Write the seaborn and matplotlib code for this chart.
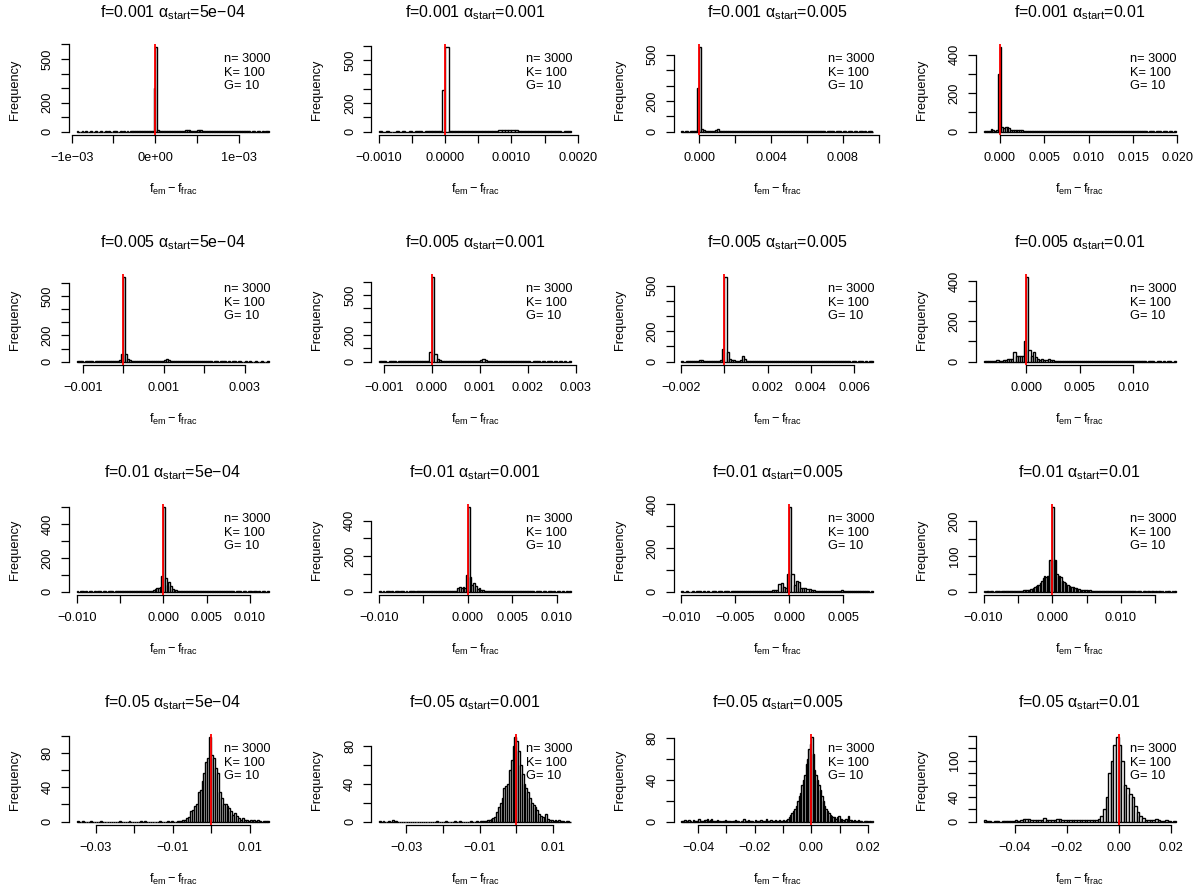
import numpy as np
import pandas as pd
import matplotlib
matplotlib.use("Agg")
import matplotlib.pyplot as plt
import seaborn as sns

# ---------------- data ----------------
f_labels = ["0.001", "0.005", "0.01", "0.05"]
alpha_labels = ["5e\u221204", "0.001", "0.005", "0.01"]
info_text = "n= 3000\nK= 100\nG= 10"
ref_value = 0.0

# row f=0.001
lo_00, w_00 = -0.00094, 2e-5
counts_00 = [1,0,0,1,0,1,0,0,1,0, 0,1,0,0,1,0,0,1,0,1, 0,0,1,1,0,0,1,0,1,0, 1,0,1,1,2,1,1,2,1,2, 1,2,2,3,2,4,
             300, 580,
             8,5,4,3,3,2,3,2,3,4, 3,4,5,4,6,5,7,9,11,8, 6,5,6,7,8,9,8,7,6,5, 5,4,4,3,4,3,3,2,3,2,
             2,3,2,2,1,2,2,1,2,1, 2,1,1,2,1,1,0,1,1,0, 1,1,0,1,0,1,1]
lo_01, w_01 = -0.0010, 5e-5
counts_01 = [1,0,1,0,0,1,0,1,0,1, 0,1,1,0,1,1,2,2,4,
             292, 588,
             6,4,3,3,2,3,2,3,3,4, 4,5,5,6,7,8,9,10,10,9, 8,7,6,5,4,4,3,3,2,2, 2,1,1,1,0,1,1]
lo_02, w_02 = -0.0010, 1e-4
counts_02 = [1,0,1,1,0,1,2,3,5,
             283, 548,
             15,8,5,4,3,3,4,6,12,15, 6,3,3,2,3,2,2,3,2,2, 3,2,2,3,2,3,3,2,3,4, 3,3,4,3,3,4,3,3,2,3,
             3,2,3,2,2,3,2,2,1,2, 2,1,2,2,1,2,1,1,2,1, 1,2,1,1,1,2,1,1,1,0, 1,1,1,1,0,1,1,1,0,1,
             1,0,1,1,0,1,1,0,1,1, 0,1,0,1,1,0]
lo_03, w_03 = -0.0018, 2e-4
counts_03 = [2,3,5,4,15,6,5,10,
             299, 438,
             25,18,22,24,18,10,8,7,6,8, 7,6,5,4,5,4,3,4,3,3, 3,2,3,3,2,3,2,2,3,2, 2,3,2,2,3,2,2,2,3,2,
             2,2,3,2,4,3,2,2,3,2, 2,3,2,2,2,1,2,2,1,2, 2,1,2,1,2,2,1,1,2,1, 2,1,1,2,1,1,1,2,1,1,
             1,1,0,1,1,1,0,1,1,1, 0,1,1,0,1,1,0,1]

# row f=0.005
lo_10, w_10 = -0.00115, 5e-5
counts_10 = [1,2,1,0,1,2,1,1,0,1, 1,2,1,1,2,1,2,2,3,3, 4,10,60,
             644,
             55,20,12,8,6,5,4,4,3,4, 3,3,4,3,4,4,5,6,8,12, 18,14,8,5,4,3,3,2,2,3, 2,2,1,2,2,1,2,1,1,2,
             1,1,1,0,1,1,0,1,1,1, 0,1,0,1,1,0,1,0,0,1, 0,1,0,0,1,0,0,1,0,0, 1]
lo_11, w_11 = -0.0011, 5e-5
counts_11 = [1,2,1,0,1,1,2,0,1,1, 1,2,1,2,2,1,2,3,2,3, 5,70,
             634,
             55,18,10,7,5,4,4,3,3,4, 3,3,3,4,3,4,4,5,7,10, 20,12,6,4,3,3,2,2,2,3, 2,1,2,2,1,1,2,1,1,1,
             0,1,1,1,0,1,0,1,1,0, 1,0,1,0,1,0,1]
lo_12, w_12 = -0.0020, 1e-4
counts_12 = [1,0,1,1,2,1,2,3,12,14, 5,3,4,3,4,5,6,7,10,84,
             555,
             62,15,10,8,6,5,8,38,18,6, 4,3,3,2,3,4,3,5,4,3, 3,2,3,2,2,3,2,2,3,2, 2,3,2,2,1,2,2,3,3,2,
             3,2,2,3,2,2,3,2,2,1, 2,1,1,2,1,1,1,0,1,1, 0,1,1,0,1,0,1,1]
lo_13, w_13 = -0.0040, 2e-4
counts_13 = [2,1,3,2,4,5,6,4,5,8, 10,12,15,12,50,30,30,28,30,100,
             418,
             58,30,47,22,15,10,12,10,8,12, 8,6,5,5,4,4,3,4,3,3, 2,3,2,3,2,2,2,3,2,2, 1,2,2,1,2,1,2,2,1,2,
             2,1,2,3,2,3,2,1,2,1, 1,2,1,1,1,0,1,1,1,0, 1,1,0,1,0,1,1,0,1]

# row f=0.01
lo_20, w_20 = -0.0100, 2e-4
counts_20 = [1,0,1,1,0,1,0,1,1,0, 1,0,1,1,0,1,1,0,1,1, 1,0,1,1,1,1,2,1,1,2, 1,2,2,1,2,2,3,2,3,3,
             4,3,5,6,8,15,20,22,25,94,
             500,
             80,40,55,35,15,10,8,6,5,4, 5,4,3,3,4,3,2,3,2,2, 3,2,2,1,2,2,1,2,1,2, 1,1,2,1,1,1,2,1,1,1,
             0,1,1,1,0,1,1,0,1,1, 0,1,1,0,1,0,1,1,0,1]
lo_21, w_21 = -0.0100, 2e-4
counts_21 = [1,0,1,0,1,1,0,1,0,1, 1,0,1,1,0,1,0,1,1,1, 0,1,1,1,2,1,1,1,2,1, 2,1,2,2,1,2,3,2,3,4,
             3,4,5,6,20,25,22,25,20,95,
             475,
             80,40,50,30,15,18,8,10,6,5, 4,5,3,4,3,3,2,3,2,3, 2,2,1,2,2,1,2,1,1,2, 1,1,1,2,1,1,0,1,1,1,
             0,1,1,0,1,1,0,1,0,1, 1,0,1,0,1,0,1]
lo_22, w_22 = -0.0100, 2e-4
counts_22 = [1,0,1,0,0,1,0,1,1,0, 1,0,1,0,1,1,0,1,1,0, 1,1,0,1,1,1,1,2,1,1, 2,1,2,2,3,2,3,3,4,3,
             5,5,6,8,8,35,40,20,18,80,
             385,
             80,30,50,45,15,15,15,14,12,8, 6,5,5,4,4,3,3,4,3,3, 2,3,4,6,5,3,2,2,1,2, 2,1,1,2,1,1,0,1]
lo_23, w_23 = -0.0100, 2e-4
counts_23 = [1,0,1,1,0,1,1,0,1,1, 1,1,0,1,1,1,1,2,1,1, 2,1,2,2,2,3,2,3,3,4, 4,5,5,6,7,8,10,12,15,18,
             20,25,30,38,45,40,45,45,90,90,
             238,
             90,90,50,45,45,40,30,28,25,20, 18,15,13,12,12,10,9,8,7,6, 6,5,5,4,4,3,4,3,3,3,
             2,3,2,2,3,2,2,2,1,2, 2,1,2,1,1,2,1,2,2,3, 2,2,1,2,1,1,2,1,1,1, 0,1,1,1,0,1,1,0,1,1,
             0,1,1,0,1,0,1,1,0,1, 0,1,0,1,1,0,1,0,1]

# row f=0.05
lo_30, w_30 = -0.0350, 5e-4
counts_30 = [1,0,0,1,0,0,0,1,0,0, 0,0,1,0,0,0,0,0,0,0, 0,0,1,0,0,0,0,1,0,0, 0,0,0,1,0,1,0,0,0,0,
             0,0,0,1,0,0,0,1,0,1, 0,0,1,1,
             1,2,2,4,5,12,14,18,21,35, 37,47,57,69,74,98,
             78,74,62,57,35,27,20,20,18,16, 12,8,10,6,4,2,4,2,2,1, 2,1,2,1,2,1,0,1,1,1]
lo_31, w_31 = -0.0375, 5e-4
counts_31 = [1,0,1,0,0,1,0,2,0,1, 0,0,0,0,0,0,0,0,0,0, 0,0,0,0,0,0,0,0,0,0, 0,1,0,0,0,0,1,0,0,0,
             0,1,0,0,1,0,0,0,0,0, 1,0,0,1,0,1,
             1,1,1,2,2,3,4,5,10,15, 20,25,35,38,40,55,65,80,89,
             85,75,60,50,40,35,31,25,20,18, 15,12,8,6,5,4,8,3,2,2, 1,2,1,2,1,1,0,1,1,0]
lo_32, w_32 = -0.0460, 5e-4
counts_32 = [1,1,2,1,1,2,1,0,2,1, 1,1,3,1,1,1,2,2,3,1, 2,3,1,1,1,2,1,1,0,1, 1,2,1,1,1,0,1,1,2,1,
             1,0,1,1,3,1,1,2,1,1, 1,0,2,1,1,1,2,1,1,1, 3,1,1,2,1,1,2,1,1,2, 1,1,
             2,1,2,3,4,6,8,10,12,15, 20,25,28,35,40,45,55,60,70,75,
             81,65,50,45,40,35,30,25,20,15, 12,10,8,6,5,4,4,3,4,5, 3,3,2,2,3,2,5,2,2,1,
             2,1,1,2,1,1,0,1,1,1, 0,1,0,1]
lo_33, w_33 = -0.0520, 1e-3
counts_33 = [2,1,1,0,1,1,0,1,1,1, 1,1,2,1,2,4,5,4,3,2, 2,3,3,6,3,2,3,2,4,5, 3,2,2,2,3,2,2,3,2,2,
             2,2,3,3,4,
             10,20,40,80,100,125,138,
             126,100,60,55,45,40,25,15,10,6, 3,3,2,2,4,2,1,1,2,1, 0,1]

M = "\u2212"
xticks_00 = [-1e-3, -5e-4, 0, 5e-4, 1e-3]
xlabs_00 = [M + "1e" + M + "03", "", "0e+00", "", "1e" + M + "03"]
xticks_01 = [-0.001, -0.0005, 0, 0.0005, 0.001, 0.0015, 0.002]
xlabs_01 = [M + "0.0010", "", "0.0000", "", "0.0010", "", "0.0020"]
xticks_02 = [0, 0.002, 0.004, 0.006, 0.008, 0.010]
xlabs_02 = ["0.000", "", "0.004", "", "0.008", ""]
xticks_03 = [0, 0.005, 0.010, 0.015, 0.020]
xlabs_03 = ["0.000", "0.005", "0.010", "0.015", "0.020"]
xticks_10 = [-0.001, 0, 0.001, 0.002, 0.003]
xlabs_10 = [M + "0.001", "", "0.001", "", "0.003"]
xticks_11 = [-0.001, 0, 0.001, 0.002, 0.003]
xlabs_11 = [M + "0.001", "0.000", "0.001", "0.002", "0.003"]
xticks_12 = [-0.002, 0, 0.002, 0.004, 0.006]
xlabs_12 = [M + "0.002", "", "0.002", "0.004", "0.006"]
xticks_13 = [0, 0.005, 0.010]
xlabs_13 = ["0.000", "0.005", "0.010"]
xticks_20 = [-0.010, -0.005, 0, 0.005, 0.010]
xlabs_20 = [M + "0.010", "", "0.000", "0.005", "0.010"]
xticks_21 = [-0.010, -0.005, 0, 0.005, 0.010]
xlabs_21 = [M + "0.010", "", "0.000", "0.005", "0.010"]
xticks_22 = [-0.010, -0.005, 0, 0.005]
xlabs_22 = [M + "0.010", M + "0.005", "0.000", "0.005"]
xticks_23 = [-0.010, -0.005, 0, 0.005, 0.010, 0.015]
xlabs_23 = [M + "0.010", "", "0.000", "", "0.010", ""]
xticks_30 = [-0.03, -0.02, -0.01, 0, 0.01]
xlabs_30 = [M + "0.03", "", M + "0.01", "", "0.01"]
xticks_31 = [-0.03, -0.02, -0.01, 0, 0.01]
xlabs_31 = [M + "0.03", "", M + "0.01", "", "0.01"]
xticks_32 = [-0.04, -0.03, -0.02, -0.01, 0, 0.01, 0.02]
xlabs_32 = [M + "0.04", "", M + "0.02", "", "0.00", "", "0.02"]
xticks_33 = [-0.04, -0.02, 0, 0.02]
xlabs_33 = [M + "0.04", M + "0.02", "0.00", "0.02"]

yticks_600 = [0, 100, 200, 300, 400, 500, 600]
ylabs_600 = ["0", "", "200", "", "", "500", ""]
yticks_500 = [0, 100, 200, 300, 400, 500]
ylabs_500a = ["0", "", "200", "", "", "500"]
ylabs_500b = ["0", "", "200", "", "400", ""]
yticks_400 = [0, 100, 200, 300, 400]
ylabs_400 = ["0", "", "200", "", "400"]
yticks_200 = [0, 50, 100, 150, 200]
ylabs_200 = ["0", "", "100", "", "200"]
yticks_100 = [0, 20, 40, 60, 80, 100]
ylabs_100 = ["0", "", "40", "", "80", ""]
yticks_80 = [0, 20, 40, 60, 80]
ylabs_80 = ["0", "", "40", "", "80"]
yticks_140 = [0, 20, 40, 60, 80, 100, 120, 140]
ylabs_140 = ["0", "", "40", "", "", "100", "", ""]

panels = [
    [(lo_00, w_00, counts_00, xticks_00, xlabs_00, yticks_600, ylabs_600),
     (lo_01, w_01, counts_01, xticks_01, xlabs_01, yticks_600, ylabs_600),
     (lo_02, w_02, counts_02, xticks_02, xlabs_02, yticks_500, ylabs_500a),
     (lo_03, w_03, counts_03, xticks_03, xlabs_03, yticks_400, ylabs_400)],
    [(lo_10, w_10, counts_10, xticks_10, xlabs_10, yticks_600, ylabs_600),
     (lo_11, w_11, counts_11, xticks_11, xlabs_11, yticks_600, ylabs_600),
     (lo_12, w_12, counts_12, xticks_12, xlabs_12, yticks_500, ylabs_500a),
     (lo_13, w_13, counts_13, xticks_13, xlabs_13, yticks_400, ylabs_400)],
    [(lo_20, w_20, counts_20, xticks_20, xlabs_20, yticks_500, ylabs_500b),
     (lo_21, w_21, counts_21, xticks_21, xlabs_21, yticks_400, ylabs_400),
     (lo_22, w_22, counts_22, xticks_22, xlabs_22, yticks_400, ylabs_400),
     (lo_23, w_23, counts_23, xticks_23, xlabs_23, yticks_200, ylabs_200)],
    [(lo_30, w_30, counts_30, xticks_30, xlabs_30, yticks_100, ylabs_100),
     (lo_31, w_31, counts_31, xticks_31, xlabs_31, yticks_80, ylabs_80),
     (lo_32, w_32, counts_32, xticks_32, xlabs_32, yticks_80, ylabs_80),
     (lo_33, w_33, counts_33, xticks_33, xlabs_33, yticks_140, ylabs_140)],
]

# ---------------- style ----------------
sns.set_theme(style="white")
plt.rcParams["font.family"] = ["Liberation Sans", "DejaVu Sans"]
plt.rcParams["mathtext.fontset"] = "custom"
plt.rcParams["mathtext.rm"] = "Liberation Sans"
plt.rcParams["mathtext.it"] = "Liberation Sans"
plt.rcParams["mathtext.bf"] = "Liberation Sans:bold"
plt.rcParams["mathtext.sf"] = "Liberation Sans"
plt.rcParams["axes.unicode_minus"] = True
plt.rcParams["text.color"] = "black"
plt.rcParams["axes.labelcolor"] = "black"
plt.rcParams["xtick.color"] = "black"
plt.rcParams["ytick.color"] = "black"

W, H = 1197, 894
fig = plt.figure(figsize=(W / 100, H / 100), dpi=100)
fig.patch.set_facecolor("white")

PL, PW, PT, PH = 69, 207.5, 44, 91
CS, RS = 302.3, 230
FS = 9.2

for r in range(4):
    for c in range(4):
        lo, w, counts, xt, xl, yt, yl = panels[r][c]
        left = PL + CS * c
        top = PT + RS * r
        ax = fig.add_axes([left / W, 1 - (top + PH) / H, PW / W, PH / H])
        n = len(counts)
        edges = lo + w * np.arange(n + 1)
        centers = (edges[:-1] + edges[1:]) / 2
        df = pd.DataFrame({"value": centers, "freq": np.asarray(counts, dtype=float)})
        sns.histplot(data=df, x="value", weights="freq", bins=[float(e) for e in edges],
                     ax=ax, stat="count", color="white", edgecolor="black",
                     linewidth=1.0, alpha=1.0)
        ax.axvline(ref_value, color="red", lw=1.3, zorder=5)
        hi = edges[-1]
        rng = hi - lo
        ymax = max(counts)
        ax.set_xlim(lo - 0.04 * rng, hi + 0.04 * rng)
        ax.set_ylim(-0.04 * ymax, 1.04 * ymax)
        ax.set_xlabel("")
        ax.set_ylabel("")
        ax.set_facecolor("white")
        for s in ["top", "right"]:
            ax.spines[s].set_visible(False)
        for s in ["left", "bottom"]:
            ax.spines[s].set_color("black")
            ax.spines[s].set_linewidth(0.9)
        ax.spines["left"].set_bounds(yt[0], yt[-1])
        ax.spines["bottom"].set_bounds(xt[0], xt[-1])
        ax.set_xticks(xt)
        ax.set_xticklabels(xl)
        ax.set_yticks(yt)
        ax.set_yticklabels(yl, rotation=90, va="center")
        ax.tick_params(axis="both", direction="out", length=6, width=0.9,
                       colors="black", labelsize=FS, bottom=True, left=True)
        ax.tick_params(axis="x", pad=6)
        ax.tick_params(axis="y", pad=5)
        ax.grid(False)
        ax.text(0.5, 1 + 31 / PH,
                "f=" + f_labels[r] + r" $\alpha_{\mathrm{start}}$=" + alpha_labels[c],
                transform=ax.transAxes, ha="center", va="center", fontsize=11.5,
                color="black")
        ax.text(0.5, -54 / PH, r"$\mathrm{f_{em}} - \mathrm{f_{frac}}$",
                transform=ax.transAxes, ha="center", va="center", fontsize=FS,
                color="black")
        ax.text(-54 / PW, 0.5, "Frequency", transform=ax.transAxes, rotation=90,
                ha="center", va="center", fontsize=FS, color="black")
        ax.text(0.745, 1 - 9 / PH, info_text, transform=ax.transAxes,
                ha="left", va="top", fontsize=FS, linespacing=1.18, color="black")

fig.savefig("out.png", dpi=100, facecolor="white")
